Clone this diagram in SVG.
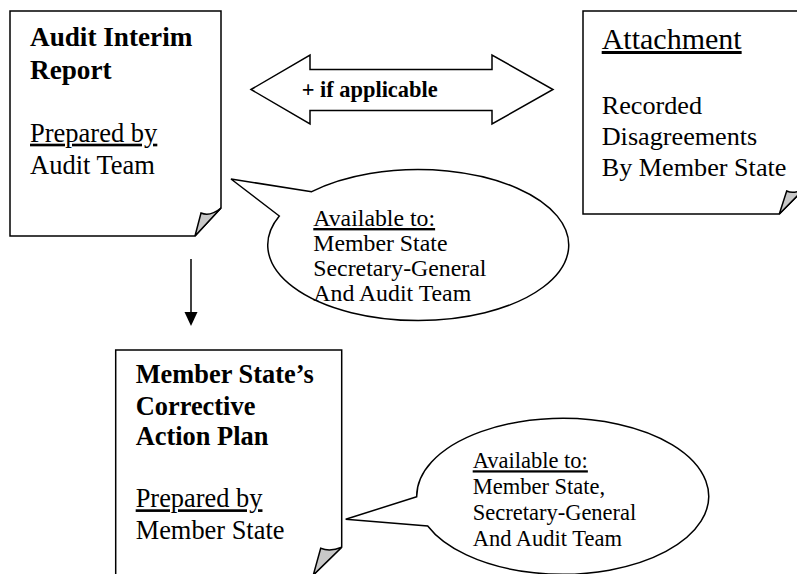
<svg xmlns="http://www.w3.org/2000/svg" width="797" height="574" viewBox="0 0 797 574">
<style>
.shape{fill:#fff;stroke:#000;stroke-width:1.5;stroke-linejoin:miter}
.flap{fill:#c8c8c8;stroke:#000;stroke-width:1.5;stroke-linejoin:miter}
.t{font-family:"Liberation Serif","Times New Roman",serif;fill:#000}
.b{font-weight:bold}
.u{text-decoration:underline}
</style>
<rect width="797" height="574" fill="#fff"/>
<g id="connectors">
<path class="shape" d="M251 89.5 L310 55 V69.5 H492 V55 L553 89.5 L492 124 V110.5 H310 V124 Z"/>
<text class="t b" x="301.7" y="96.7" font-size="22.4">+ if applicable</text>
<line x1="191" y1="259" x2="191" y2="313" stroke="#000" stroke-width="1.5"/>
<polygon points="184.5,312 197.5,312 191,326" fill="#000"/>
</g>
<g id="node-audit-interim-report">
<path class="shape" d="M10 11 H221 V208 L195 236 H10 Z"/>
<path class="flap" d="M195 236 L201 213 Q210 217 221 208 Z"/>
<text class="t" font-size="26.5">
<tspan class="b" x="30" y="45.7" font-size="27.2">Audit Interim</tspan>
<tspan class="b" x="30" y="79" font-size="27.2">Report</tspan>
<tspan class="u" x="30" y="141.7">Prepared by</tspan>
<tspan x="30" y="174">Audit Team</tspan>
</text>
</g>
<g id="node-attachment">
<path class="shape" d="M583 11 H806 V187 L779.3 214 H583 Z"/>
<path class="flap" d="M779.3 214 L786.7 191 Q795 195 806 187 Z"/>
<text class="t" font-size="26.2">
<tspan class="u" x="601.7" y="49" font-size="30">Attachment</tspan>
<tspan x="601.7" y="114">Recorded</tspan>
<tspan x="601.7" y="145">Disagreements</tspan>
<tspan x="601.7" y="176">By Member State</tspan>
</text>
</g>
<g id="bubble-1">
<path class="shape" d="M311.7 191.7 L231 179 L279.3 216 A150.5 75.5 0 1 0 311.7 191.7 Z"/>
<text class="t" font-size="23.8">
<tspan class="u" x="313.3" y="226">Available to:</tspan>
<tspan x="313.3" y="251">Member State</tspan>
<tspan x="313.3" y="276">Secretary-General</tspan>
<tspan x="313.3" y="301">And Audit Team</tspan>
</text>
</g>
<g id="node-corrective-action-plan">
<path class="shape" d="M115.7 350 H341.7 V547.3 L313.3 575 H115.7 Z"/>
<path class="flap" d="M313.3 575 L320.7 548.3 Q330 552 341.7 547.3 Z"/>
<text class="t" font-size="26.4">
<tspan class="b" x="135.7" y="383.3">Member State’s</tspan>
<tspan class="b" x="135.7" y="415">Corrective</tspan>
<tspan class="b" x="135.7" y="445">Action Plan</tspan>
<tspan class="u" x="135.7" y="507.3">Prepared by</tspan>
<tspan x="135.7" y="539.3">Member State</tspan>
</text>
</g>
<g id="bubble-2">
<path class="shape" d="M416.7 496.7 L345.7 519.3 L427.7 526 A146 78 0 1 0 416.7 496.7 Z"/>
<text class="t" font-size="22.5">
<tspan class="u" x="472.7" y="468.3">Available to:</tspan>
<tspan x="472.7" y="494">Member State,</tspan>
<tspan x="472.7" y="520">Secretary-General</tspan>
<tspan x="472.7" y="545.7">And Audit Team</tspan>
</text>
</g>
</svg>
